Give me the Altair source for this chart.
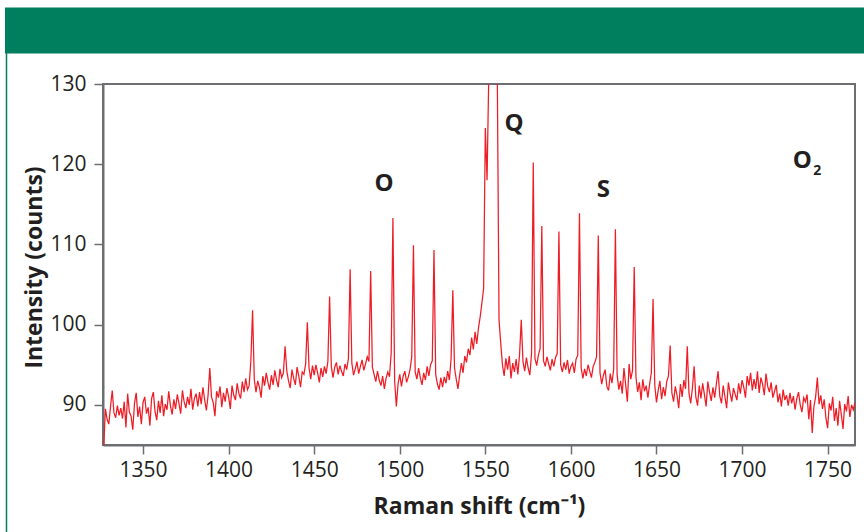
import altair as alt
import pandas as pd

# Raman spectrum of air: O/Q/S rotational branches of O2
SHIFT_START = 1327   # first sample (cm-1)
SHIFT_STEP = 1       # sampling interval (cm-1)

intensity = [
    84.6, 89.5, 88.2, 87.6, 89.8, 91.8, 89.0, 88.4, 89.9, 88.7,     # 1327
    89.6, 88.3, 90.4, 87.2, 91.4, 89.1, 88.6, 86.9, 90.2, 91.5,     # 1337
    88.5, 89.8, 87.6, 90.3, 91.0, 88.9, 89.7, 87.4, 90.8, 91.6,     # 1347
    89.2, 88.1, 90.5, 89.0, 91.2, 88.6, 90.1, 89.4, 91.7, 89.9,     # 1357
    88.8, 90.7, 89.5, 91.3, 90.2, 88.9, 91.8, 90.4, 89.6, 91.0,     # 1367
    90.0, 92.0, 89.4, 90.8, 91.4, 89.8, 91.6, 90.1, 92.2, 90.6,     # 1377
    89.3, 91.2, 94.6, 91.0, 90.3, 88.6, 91.7, 90.9, 92.3, 89.7,     # 1387
    91.5, 90.4, 92.1, 91.0, 89.5, 92.4, 91.2, 90.6, 92.7, 91.4,     # 1397
    90.8, 92.9, 91.6, 93.3, 91.9, 92.4, 95.5, 101.8, 93.2, 91.6,    # 1407
    93.0, 92.2, 90.9, 93.6, 92.4, 94.0, 92.8, 91.9, 93.7, 92.5,     # 1417
    94.3, 93.1, 92.2, 94.5, 93.4, 94.0, 97.3, 94.2, 93.0, 92.1,     # 1427
    94.4, 93.3, 92.5, 94.7, 93.6, 92.2, 94.1, 93.8, 95.1, 100.3,    # 1437
    94.6, 93.2, 94.9, 93.7, 95.0, 94.0, 92.8, 94.6, 93.5, 94.8,     # 1447
    93.9, 95.4, 103.5, 94.8, 93.4, 94.7, 95.3, 93.8, 94.9, 94.2,    # 1457
    93.6, 95.1, 94.4, 95.8, 106.9, 95.2, 93.7, 94.5, 95.4, 93.9,    # 1467
    94.8, 95.6, 94.3, 95.1, 96.0, 95.4, 106.7, 94.7, 93.8, 92.9,    # 1477
    94.2, 93.1, 92.4, 93.6, 92.0, 93.3, 94.1, 93.5, 96.5, 113.3,    # 1487
    93.0, 89.8, 92.6, 93.8, 92.3, 93.6, 94.2, 92.8, 93.5, 94.4,     # 1497
    96.0, 109.9, 94.1, 93.2, 94.6, 93.4, 92.5, 94.0, 93.1, 94.8,    # 1507
    93.6, 95.0, 95.5, 109.3, 93.8, 92.6, 91.9, 93.4, 92.2, 93.5,    # 1517
    92.7, 94.2, 93.1, 95.8, 104.3, 94.6, 93.2, 92.0, 93.7, 95.2,    # 1527
    94.0, 96.1, 95.3, 97.0, 96.2, 98.4, 96.9, 99.1, 97.6, 99.6,     # 1537
    101.0, 102.7, 104.5, 124.5, 118.0, 131.0, 131.0, 131.0, 131.0, 131.0,  # 1547
    131.0, 100.6, 97.7, 95.0, 93.6, 95.8, 94.4, 96.1, 93.3, 95.2,   # 1557
    94.1, 95.7, 93.8, 96.3, 100.6, 95.4, 94.2, 95.9, 94.6, 93.7,    # 1567
    96.4, 120.2, 95.8, 94.9, 96.2, 97.0, 112.3, 95.5, 94.8, 96.0,   # 1577
    95.1, 94.3, 95.7, 94.8, 95.9, 96.4, 111.6, 95.0, 94.1, 95.3,    # 1587
    94.4, 95.6, 93.9, 94.8, 95.2, 94.0, 95.7, 96.2, 113.9, 94.6,    # 1597
    93.3, 94.5, 93.6, 95.0, 94.2, 93.4, 94.8, 95.3, 96.0, 111.1,    # 1607
    94.0, 92.6, 93.7, 94.4, 92.3, 91.8, 93.9, 92.7, 94.5, 111.9,    # 1617
    93.8, 91.9, 93.0, 91.4, 94.6, 92.5, 90.4, 95.1, 93.2, 94.3,     # 1627
    107.2, 93.5, 91.6, 92.8, 90.6, 93.2, 91.7, 92.4, 90.9, 92.6,    # 1637
    94.0, 103.2, 92.5, 90.3, 91.8, 93.0, 90.7, 92.2, 91.1, 92.9,    # 1647
    93.6, 97.4, 91.5, 90.4, 92.3, 91.2, 89.6, 92.6, 91.0, 93.1,     # 1657
    92.0, 97.3, 91.4, 90.2, 92.1, 94.8, 91.0, 89.9, 92.4, 90.8,     # 1667
    92.7, 91.3, 89.8, 92.9, 91.6, 90.5, 92.2, 90.9, 92.6, 94.2,     # 1677
    91.1, 90.2, 92.4, 91.0, 89.6, 92.8, 91.5, 90.4, 92.1, 91.3,     # 1687
    90.6, 92.7, 91.4, 93.1, 92.2, 90.9, 93.6, 92.4, 94.0, 91.8,     # 1697
    93.2, 92.0, 94.2, 91.5, 93.4, 92.6, 91.2, 93.9, 92.3, 91.6,     # 1707
    92.8, 90.9, 91.7, 92.5, 90.3, 91.4, 89.8, 91.9, 90.6, 91.2,     # 1717
    89.9, 91.5, 90.2, 91.1, 89.4, 90.8, 91.6, 90.0, 89.1, 90.9,     # 1727
    90.4, 91.3, 88.2, 90.6, 86.5, 89.8, 91.0, 93.4, 90.1, 91.2,     # 1737
    89.5, 90.7, 88.4, 87.1, 90.2, 89.3, 91.0, 88.0, 89.6, 87.4,     # 1747
    90.5, 88.8, 87.0, 90.1, 89.2, 91.1, 88.5, 90.0, 89.4, 90.3,     # 1757
]
shift = [SHIFT_START + i * SHIFT_STEP for i in range(len(intensity))]

# branch labels
branch_labels = ["O", "Q", "S", "O"]
branch_shift = [1490.8, 1566.8, 1618.9, 1735.2]
branch_intensity = [117.5, 125.0, 116.8, 120.4]
# subscript of the O2 label
sub_labels = ["2"]
sub_shift = [1744.0]
sub_intensity = [119.2]

x_ticks = [1350, 1400, 1450, 1500, 1550, 1600, 1650, 1700, 1750]
y_ticks = [90, 100, 110, 120, 130]

spectrum = pd.DataFrame({"shift": shift, "intensity": intensity})
labels_df = pd.DataFrame({"shift": branch_shift, "intensity": branch_intensity, "label": branch_labels})
sub_df = pd.DataFrame({"shift": sub_shift, "intensity": sub_intensity, "label": sub_labels})

FONT = "Open Sans"
INK = "#231f20"
FRAME = "#6d6e71"
GREEN = "#007f5f"

x_enc = alt.X(
    "shift:Q",
    scale=alt.Scale(domain=[1326.6, 1766], nice=False, zero=False),
    axis=alt.Axis(values=x_ticks, format="d", title="Raman shift (cm⁻¹)", grid=False,
                  labelPadding=5, titleBaseline="alphabetic", titleY=68),
)
y_enc = alt.Y(
    "intensity:Q",
    scale=alt.Scale(domain=[85, 130], nice=False, zero=False),
    axis=alt.Axis(values=y_ticks, format="d", title="Intensity (counts)", grid=False,
                  labelPadding=8, titleBaseline="alphabetic", titleX=-61.5, titleY=183),
)

line = alt.Chart(spectrum).mark_line(color="#ee1c25", strokeWidth=1.25, clip=True).encode(
    x=x_enc, y=y_enc
)

branch_text = alt.Chart(labels_df).mark_text(
    font=FONT, fontSize=24, fontWeight="bold", color=INK, align="center", baseline="middle"
).encode(x=x_enc, y=y_enc, text="label:N")

sub_text = alt.Chart(sub_df).mark_text(
    font=FONT, fontSize=14, fontWeight="bold", color=INK, align="center", baseline="middle"
).encode(x=x_enc, y=y_enc, text="label:N")

# green banner across the top and the thin green border on the left
banner = alt.Chart(pd.DataFrame({"k": [0]})).mark_rect(color=GREEN).encode(
    x=alt.value(-98), x2=alt.value(761), y=alt.value(-76.5), y2=alt.value(-30.5)
)
border = alt.Chart(pd.DataFrame({"k": [0]})).mark_rule(color=GREEN, strokeWidth=1.5).encode(
    x=alt.value(-96.5), y=alt.value(-31), y2=alt.value(448)
)

chart = alt.layer(banner, border, line, branch_text, sub_text).properties(
    width=752,
    height=361,
    autosize=alt.AutoSizeParams(type="none"),
    padding={"left": 103, "top": 84, "right": 9, "bottom": 87},
    background="white",
).configure_view(
    stroke=FRAME, strokeWidth=2
).configure_axis(
    labelFont=FONT, labelFontSize=21, labelColor=INK,
    titleFont=FONT, titleFontSize=23, titleFontWeight="bold", titleColor=INK,
    domainColor=FRAME, domainWidth=2,
    tickColor=FRAME, tickWidth=1.5, tickSize=9,
)

chart.save("out.html", embed_options={"renderer": "svg", "actions": False})
